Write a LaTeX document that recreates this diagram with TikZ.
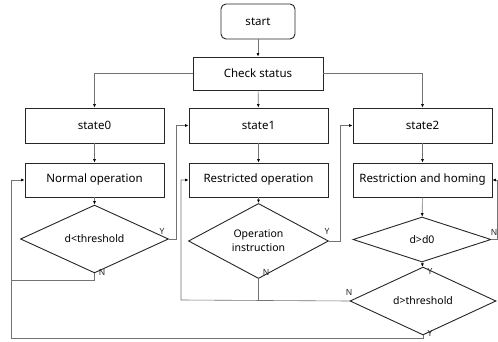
\documentclass[tikz,border=0pt]{standalone}
\usepackage{fontspec}
\setmainfont{Noto Sans}
\usetikzlibrary{shapes.geometric,arrows.meta}
\begin{document}
\begin{tikzpicture}[x=1pt,y=-1pt,
  box/.style={draw=black!85,line width=0.9pt,rectangle,inner sep=0pt,minimum width=139pt,minimum height=35pt,font=\fontsize{11.5}{13}\selectfont},
  startbox/.style={box,rounded corners=5pt,minimum width=74pt},
  dia/.style={draw=black!85,line width=0.9pt,diamond,inner sep=0pt,font=\fontsize{10.5}{14}\selectfont,align=center},
  arr/.style={draw=black!55,line width=0.6pt,-{Latex[length=3.5pt,width=3pt,color=black]}},
  ln/.style={draw=black!55,line width=0.6pt},
  lab/.style={font=\fontsize{8.5}{9}\selectfont,inner sep=0pt,text=black!85}]
\useasboundingbox (0,0) rectangle (498,342);
\fill[white] (0,0) rectangle (498,342);
% nodes
\node[startbox] (start) at (258,21.5) {start};
\node[box,minimum width=130pt,minimum height=33pt] (check) at (258,73.5) {Check status};
\node[box] (s0) at (94.5,125.5) {state0};
\node[box] (s1) at (258.5,125.5) {state1};
\node[box] (s2) at (422.5,125.5) {state2};
\node[box,minimum height=34pt] (normal) at (94.5,180) {Normal operation};
\node[box,minimum height=34pt] (restr) at (258.5,180) {Restricted operation};
\node[box,minimum height=34pt] (homing) at (422.5,180) {Restriction and homing};
\node[dia,minimum width=148pt,minimum height=50pt] (d1) at (94.5,239) {d<threshold};
\node[dia,minimum width=140pt,minimum height=46pt] (d2) at (258.5,241) {Operation\\instruction};
\node[dia,minimum width=138pt,minimum height=45pt] (d3) at (422,239.5) {d>d0};
\node[dia,minimum width=146pt,minimum height=46pt] (d4) at (423,301) {d>threshold};
% helper coordinates
\coordinate (c1) at (176,0);
\coordinate (c2) at (340,0);
\coordinate (c3) at (497,0);
\coordinate (n1) at (11,280);
\coordinate (bl) at (11,338);
\coordinate (ml) at (181,300);
% connectors
\draw[arr] (start) -- (check);
\draw[arr] (check.west) -| (s0.north);
\draw[arr] (check) -- (s1);
\draw[arr] (check.east) -| (s2.north);
\draw[arr] (s0) -- (normal);
\draw[arr] (s1) -- (restr);
\draw[arr] (s2) -- (homing);
\draw[arr] (normal) -- (d1);
\draw[arr] (restr) -- (d2);
\draw[arr] (homing) -- (d3);
\draw[arr] (d1.east) -| (c1 |- s1.west) -- (s1.west);
\draw[arr] (d2.east) -| (c2 |- s2.west) -- (s2.west);
\draw[arr] (d3.east) -| (c3 |- homing.east) -- (homing.east);
\draw[arr] (d3) -- (d4);
\draw[ln] (d1.south) |- (n1);
\draw[arr] (d4.south) |- (bl) |- (normal.west);
\draw[arr] (d4.west) -- (ml) |- (restr.west);
\draw[ln] (d2.south) -- (d2.south |- ml);
% labels
\node[lab] (y1) at (162,231) {Y};
\node[lab] (nn1) at (102,272) {N};
\node[lab] (y2) at (327,231) {Y};
\node[lab] (nn2) at (266,272) {N};
\node[lab] (nn3) at (494,232) {N};
\node[lab] (y3) at (430,271) {Y};
\node[lab] (nn4) at (349,292) {N};
\node[lab] (y4) at (430,333) {Y};
\end{tikzpicture}
\end{document}
